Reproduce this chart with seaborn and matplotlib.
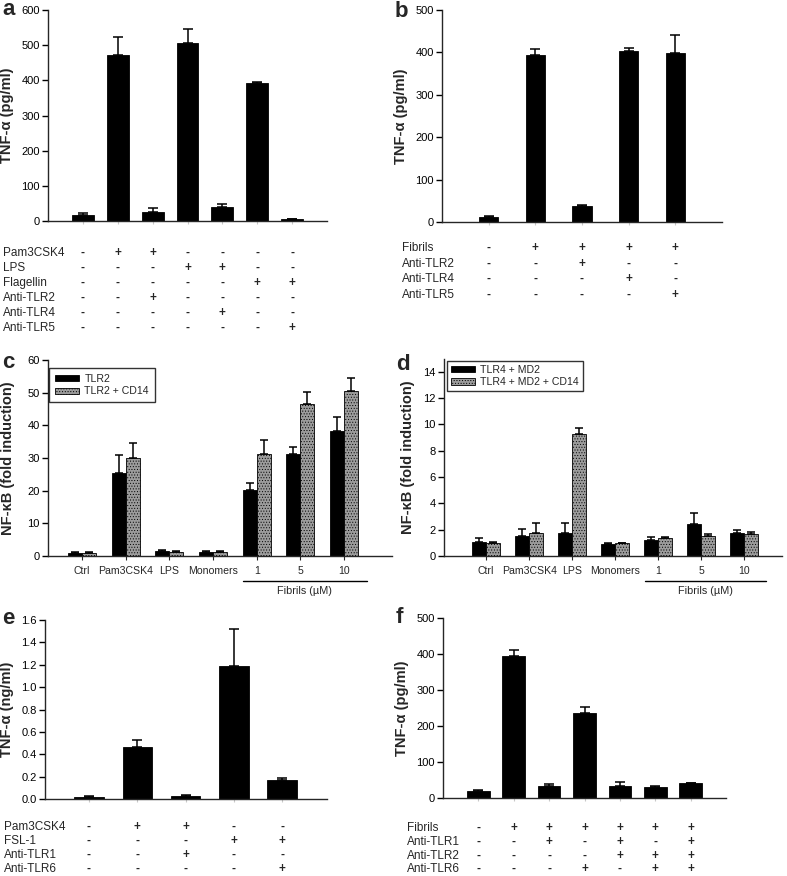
import numpy as np
import pandas as pd
import matplotlib
matplotlib.use('Agg')
import matplotlib.pyplot as plt
import seaborn as sns
from matplotlib.transforms import blended_transform_factory
from matplotlib.ticker import FormatStrFormatter

# ---------------- data ----------------
# panel a
a_conditions = ['Ctrl', 'Pam3CSK4', 'Pam3CSK4+aTLR2', 'LPS', 'LPS+aTLR4', 'Flagellin', 'Flagellin+aTLR5']
a_tnf = [18, 472, 26, 507, 40, 393, 5]
a_err = [4, 50, 10, 38, 7, 2, 1]
a_rows = ['Pam3CSK4', 'LPS', 'Flagellin', 'Anti-TLR2', 'Anti-TLR4', 'Anti-TLR5']
a_table = [['-', '+', '+', '-', '-', '-', '-'],
           ['-', '-', '-', '+', '+', '-', '-'],
           ['-', '-', '-', '-', '-', '+', '+'],
           ['-', '-', '+', '-', '-', '-', '-'],
           ['-', '-', '-', '-', '+', '-', '-'],
           ['-', '-', '-', '-', '-', '-', '+']]

# panel b
b_conditions = ['Ctrl', 'Fibrils', 'Fibrils+aTLR2', 'Fibrils+aTLR4', 'Fibrils+aTLR5']
b_tnf = [11, 393, 37, 404, 399]
b_err = [2, 16, 2, 6, 41]
b_rows = ['Fibrils', 'Anti-TLR2', 'Anti-TLR4', 'Anti-TLR5']
b_table = [['-', '+', '+', '+', '+'],
           ['-', '-', '+', '-', '-'],
           ['-', '-', '-', '+', '-'],
           ['-', '-', '-', '-', '+']]

# panel c
cd_groups = ['Ctrl', 'Pam3CSK4', 'LPS', 'Monomers', '1', '5', '10']
c_series = ['TLR2', 'TLR2 + CD14']
c_tlr2 = [1.0, 25.5, 1.4, 1.2, 20.2, 31.2, 38.4]
c_tlr2_err = [0.1, 5.5, 0.3, 0.2, 2.1, 2.1, 4.3]
c_cd14 = [1.0, 30.1, 1.2, 1.3, 31.3, 46.5, 50.5]
c_cd14_err = [0.1, 4.4, 0.2, 0.2, 4.2, 3.6, 4.0]

# panel d
d_series = ['TLR4 + MD2', 'TLR4 + MD2 + CD14']
d_md2 = [1.07, 1.5, 1.73, 0.9, 1.24, 2.41, 1.78]
d_md2_err = [0.33, 0.58, 0.77, 0.05, 0.23, 0.86, 0.17]
d_cd14 = [1.02, 1.75, 9.24, 0.95, 1.37, 1.52, 1.67]
d_cd14_err = [0.08, 0.75, 0.46, 0.04, 0.08, 0.18, 0.16]

# panel e
e_conditions = ['Ctrl', 'Pam3CSK4', 'Pam3CSK4+aTLR1', 'FSL-1', 'FSL-1+aTLR6']
e_tnf = [0.02, 0.465, 0.03, 1.19, 0.17]
e_err = [0.005, 0.06, 0.007, 0.33, 0.02]
e_rows = ['Pam3CSK4', 'FSL-1', 'Anti-TLR1', 'Anti-TLR6']
e_table = [['-', '+', '+', '-', '-'],
           ['-', '-', '-', '+', '+'],
           ['-', '-', '+', '-', '-'],
           ['-', '-', '-', '-', '+']]

# panel f
f_conditions = ['Ctrl', 'Fibrils', 'F+aTLR1', 'F+aTLR6', 'F+aTLR1+aTLR2', 'F+aTLR2+aTLR6', 'F+all']
f_tnf = [18.5, 394, 32, 236, 32, 31.5, 41.5]
f_err = [2.5, 16, 7, 17, 11.5, 1.5, 1]
f_rows = ['Fibrils', 'Anti-TLR1', 'Anti-TLR2', 'Anti-TLR6']
f_table = [['-', '+', '+', '+', '+', '+', '+'],
           ['-', '-', '+', '-', '+', '-', '+'],
           ['-', '-', '-', '-', '+', '+', '+'],
           ['-', '-', '-', '+', '-', '+', '+']]

# ---------------- style ----------------
sns.set_theme(style='ticks')
plt.rcParams['font.family'] = ['Liberation Sans', 'DejaVu Sans']
plt.rcParams['hatch.linewidth'] = 0.4
plt.rcParams['axes.linewidth'] = 1.0

W, H = 787, 876
fig = plt.figure(figsize=(W / 100, H / 100), dpi=100)


def rect(l, r, t, b):
    return [l / W, 1 - b / H, (r - l) / W, (b - t) / H]


def fy(py):
    return 1 - py / H


def style_axes(ax, ylim, yticks, xlim, ylabel, label_right_px, fmt=None):
    ax.set_ylim(*ylim)
    ax.set_yticks(yticks)
    ax.set_xlim(*xlim)
    if fmt:
        ax.yaxis.set_major_formatter(FormatStrFormatter(fmt))
    sns.despine(ax=ax)
    ax.tick_params(axis='y', length=4, width=1, labelsize=8.0, pad=2, colors='black')
    ax.set_xlabel('')
    ax.set_ylabel(ylabel, fontsize=10.5, fontweight='bold')
    pos = ax.get_position()
    ax.yaxis.set_label_coords(label_right_px / W, pos.y0 + pos.height / 2,
                              transform=fig.transFigure)


def single_panel(ax, cats, vals, errs, width):
    df = pd.DataFrame({'cond': cats, 'val': vals})
    sns.barplot(data=df, x='cond', y='val', color='black', width=width,
                errorbar=None, ax=ax, edgecolor='black', linewidth=0.6,
                saturation=1)
    xs = [p.get_x() + p.get_width() / 2 for p in ax.patches]
    ax.errorbar(xs, vals, yerr=[np.zeros(len(errs)), errs], fmt='none',
                ecolor='black', elinewidth=1.1, capsize=3.5, capthick=1.1)
    ax.set_xticks(range(len(cats)))
    ax.set_xticklabels([])
    ax.tick_params(axis='x', length=2.5, width=0.8, colors='#c8c8c8')
    return xs


def table(ax, xs, rows, tab, label_px, row_px):
    tr = blended_transform_factory(ax.transData, fig.transFigure)
    for name, marks, py in zip(rows, tab, row_px):
        fig.text(label_px / W, fy(py), name, ha='left', va='center', fontsize=8.5)
        for x, m in zip(xs, marks):
            ax.text(x, fy(py), m, transform=tr, ha='center', va='center',
                    fontsize=8.5, fontweight='bold')


def grouped_panel(ax, series_names, s1, e1, s2, e2):
    df = pd.DataFrame({'grp': cd_groups * 2, 'val': s1 + s2,
                       'series': [series_names[0]] * len(s1) + [series_names[1]] * len(s2)})
    sns.barplot(data=df, x='grp', y='val', hue='series',
                palette=['black', '#9c9c9c'], width=0.64, errorbar=None,
                saturation=1, edgecolor='black', linewidth=0.6, legend=False, ax=ax)
    conts = list(ax.containers[:2])
    for p in conts[1].patches:
        p.set_hatch('......')
    for cont, vals, errs in zip(conts, [s1, s2], [e1, e2]):
        xs = [p.get_x() + p.get_width() / 2 for p in cont.patches]
        ax.errorbar(xs, vals, yerr=[np.zeros(len(errs)), errs], fmt='none',
                    ecolor='black', elinewidth=1.1, capsize=3, capthick=1.1)
    ax.set_xticks(range(len(cd_groups)))
    ax.set_xticklabels(cd_groups, fontsize=7.6)
    ax.tick_params(axis='x', length=3, width=0.8, pad=4)
    return conts


def fibrils_bar(ax, x0, x1):
    tr = blended_transform_factory(ax.transData, fig.transFigure)
    ax.plot([x0, x1], [fy(581), fy(581)], transform=tr, color='black', lw=1, clip_on=False)
    ax.text((x0 + x1) / 2, fy(591), 'Fibrils (µM)', transform=tr, ha='center',
            va='center', fontsize=7.8)


def legend(ax, conts, labels, x_px, y_px, bpad):
    leg = ax.legend(conts, labels, loc='upper left', bbox_to_anchor=(x_px / W, fy(y_px)),
                    bbox_transform=fig.transFigure, frameon=True, fancybox=False,
                    edgecolor='black', fontsize=7.6, handlelength=2.3, handleheight=0.55,
                    borderpad=bpad, labelspacing=0.25, handletextpad=0.5, borderaxespad=0)
    leg.get_frame().set_linewidth(1.0)


# ---------------- panel a ----------------
ax_a = fig.add_axes(rect(48, 327, 10, 221))
xs = single_panel(ax_a, a_conditions, a_tnf, a_err, 0.63)
style_axes(ax_a, (0, 600), range(0, 601, 100), (-1, 7), 'TNF-α (pg/ml)', 14)
table(ax_a, xs, a_rows, a_table, 3, [253, 268, 283, 298, 313, 328])

# ---------------- panel b ----------------
ax_b = fig.add_axes(rect(442, 722, 10, 222))
xs = single_panel(ax_b, b_conditions, b_tnf, b_err, 0.42)
style_axes(ax_b, (0, 500), range(0, 501, 100), (-1, 5), 'TNF-α (pg/ml)', 408)
table(ax_b, xs, b_rows, b_table, 402, [248, 264, 279, 295])

# ---------------- panel c ----------------
ax_c = fig.add_axes(rect(48, 392, 360, 556))
conts = grouped_panel(ax_c, c_series, c_tlr2, c_tlr2_err, c_cd14, c_cd14_err)
style_axes(ax_c, (0, 60), range(0, 61, 10), (-0.78, 7.1), 'NF-κB (fold induction)', 15)
legend(ax_c, conts, c_series, 49, 368, 0.55)
fibrils_bar(ax_c, 3.68, 6.53)

# ---------------- panel d ----------------
ax_d = fig.add_axes(rect(444, 782, 358.6, 556))
conts = grouped_panel(ax_d, d_series, d_md2, d_md2_err, d_cd14, d_cd14_err)
style_axes(ax_d, (0, 15), range(0, 15, 2), (-0.98, 6.88), 'NF-κB (fold induction)', 415)
legend(ax_d, conts, d_series, 447, 361, 0.35)
fibrils_bar(ax_d, 3.7, 6.51)

# ---------------- panel e ----------------
ax_e = fig.add_axes(rect(45, 327, 620, 799))
xs = single_panel(ax_e, e_conditions, e_tnf, e_err, 0.61)
style_axes(ax_e, (0, 1.6), np.arange(0, 1.61, 0.2), (-0.91, 4.93), 'TNF-α (ng/ml)', 14, fmt='%.1f')
table(ax_e, xs, e_rows, e_table, 4, [827, 841, 855, 869])

# ---------------- panel f ----------------
ax_f = fig.add_axes(rect(443, 726, 618, 798))
xs = single_panel(ax_f, f_conditions, f_tnf, f_err, 0.64)
style_axes(ax_f, (0, 500), range(0, 501, 100), (-1, 7), 'TNF-α (pg/ml)', 409)
table(ax_f, xs, f_rows, f_table, 407, [828, 842, 856, 869])

# ---------------- panel letters ----------------
for letter, px, py in [('a', 2, 15), ('b', 395, 17), ('c', 2, 368),
                       ('d', 396, 370), ('e', 2, 624), ('f', 396, 623)]:
    fig.text(px / W, fy(py), letter, fontsize=16, fontweight='bold',
             ha='left', va='baseline')

fig.savefig('out.png', dpi=100)
